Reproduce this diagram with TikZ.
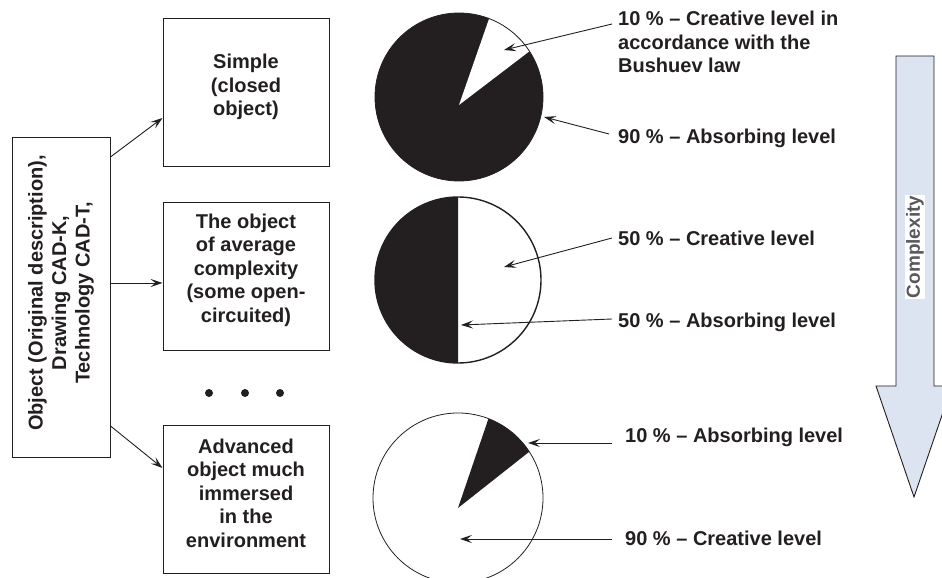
\documentclass[tikz,border=0pt]{standalone}
\usepackage{fontspec}
\setmainfont{Liberation Sans}
\usetikzlibrary{arrows.meta,calc}
\definecolor{ink}{HTML}{231F20}
\definecolor{arrowblue}{HTML}{DCE3F1}
\definecolor{labelgray}{HTML}{58595B}

\begin{document}
\begin{tikzpicture}[x=1pt,y=1pt,
    every node/.style={font=\bfseries\fontsize{20}{23.5}\selectfont, text=ink},
    box/.style={draw=ink, line width=1pt, minimum width=166pt, minimum height=148pt, inner sep=0pt},
    txt/.style={align=center, inner sep=0pt},
    lbl/.style={anchor=west, align=left, inner sep=0pt},
    pointer/.style={draw=ink, line width=0.9pt, -{Stealth[length=12pt,width=8pt,inset=5pt]}}]
    \useasboundingbox (0,0) rectangle (942,578);

    % object and its three kinds
    \node[box, minimum width=98pt, minimum height=320pt] (obj) at (61,280) {};
    \node[txt, rotate=90] (objtxt) at ([yshift=5pt]obj.center) {Object (Original description),\\Drawing CAD-K,\\Technology CAD-T,};

    \node[box] (simple) at (246,485) {};
    \node[txt] (simpletxt) at ([yshift=6pt]simple.center) {Simple\\(closed\\object)};
    \node[box] (average) at (246,301) {};
    \node[txt] (averagetxt) at ([yshift=7pt]average.center) {The object\\of average\\complexity\\(some open-\\circuited)};
    \node[box] (advanced) at (246,78) {};
    \node[txt] (advancedtxt) at ([yshift=7pt]advanced.center) {Advanced\\object much\\immersed\\in the\\environment};

    \foreach \x in {209,245,280}
        \fill[ink] (\x,185) circle (4pt);

    \draw[pointer] ([yshift=141pt]obj.east) -- ([yshift=-25pt]simple.west);
    \draw[pointer] ([yshift=15pt]obj.east) -- ([yshift=-6pt]average.west);
    \draw[pointer] ([yshift=-128pt]obj.east) -- ([yshift=32pt]advanced.west);

    % pies
    \coordinate (pieA) at (459,481);
    \coordinate (pieB) at (458,298);
    \coordinate (pieC) at (458,80);

    \fill[ink] (pieA) circle (84);
    \fill[white] ($(pieA)+(0,-8)$) -- ($(pieA)+(69:84)$) arc (69:33:84) -- cycle;
    \draw[ink, line width=0.8pt] (pieA) circle (84);

    \fill[white] (pieB) circle (83);
    \fill[ink] (pieB) ++(0,83) arc (90:270:83) -- cycle;
    \draw[ink, line width=1.4pt] (pieB) circle (83);

    \draw[ink, line width=0.8pt] (pieC) circle (85);
    \fill[ink] ($(pieC)+(0,-10)$) -- ($(pieC)+(69:85)$) arc (69:33:85) -- cycle;

    \coordinate (inA1) at ($(pieA)+(45,47)$);
    \coordinate (inA2) at ($(pieA)+(85,-20)$);
    \coordinate (inB1) at ($(pieB)+(46,13)$);
    \coordinate (inB2) at ($(pieB)+(3,-45)$);
    \coordinate (inC1) at ($(pieC)+(70,55)$);
    \coordinate (inC2) at ($(pieC)+(2,-41)$);

    % levels
    \node[lbl] (creativeA) at (618,536) {10 \% -- Creative level in\\accordance with the\\Bushuev law};
    \node[lbl] (absorbA) at (618,440) {90 \% -- Absorbing level};
    \node[lbl] (creativeB) at (618,340) {50 \% -- Creative level};
    \node[lbl] (absorbB) at (618,256) {50 \% -- Absorbing level};
    \node[lbl] (absorbC) at (625,141) {10 \% -- Absorbing level};
    \node[lbl] (creativeC) at (625,40) {90 \% -- Creative level};

    \draw[pointer] ([xshift=-6pt,yshift=18pt]creativeA.west) -- (inA1);
    \draw[pointer] ([xshift=-9pt,yshift=4pt]absorbA.west) -- (inA2);
    \draw[pointer] ([xshift=-6pt]creativeB.west) -- (inB1);
    \draw[pointer] ([xshift=-6pt,yshift=3pt]absorbB.west) -- (inB2);
    \draw[pointer] ([xshift=-13pt,yshift=-6pt]absorbC.west) -- (inC1);
    \draw[pointer] ([xshift=-13pt,yshift=-1pt]creativeC.west) -- (inC2);

    % complexity arrow
    \draw[ink, line width=0.9pt, fill=arrowblue] (896,522) -- (934,522) -- (934,192) -- (952,192)
        -- (914,81) -- (876,192) -- (896,192) -- cycle;
    \node[rotate=90, fill=white, inner sep=1pt, text=labelgray, font=\bfseries\fontsize{19}{22}\selectfont] (complexity) at (915,331) {Complexity};
\end{tikzpicture}
\end{document}
